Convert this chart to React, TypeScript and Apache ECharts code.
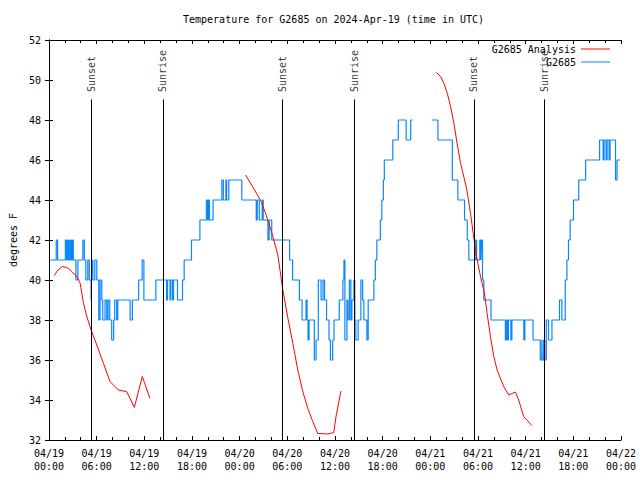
import React, { useEffect, useRef } from 'react';
import * as echarts from 'echarts';

// Hours since 04/19 00:00 UTC
const xTickLabels = [
  '04/19\n00:00', '04/19\n06:00', '04/19\n12:00', '04/19\n18:00',
  '04/20\n00:00', '04/20\n06:00', '04/20\n12:00', '04/20\n18:00',
  '04/21\n00:00', '04/21\n06:00', '04/21\n12:00', '04/21\n18:00',
  '04/22\n00:00',
];

const sunTimes = [5.31, 14.34, 29.39, 38.42, 53.48, 62.38];
const sunLabels = ['Sunset', 'Sunrise', 'Sunset', 'Sunrise', 'Sunset', 'Sunrise'];

const analysisDay1 = [
  [0.66, 40.22], [1.13, 40.5], [1.72, 40.68], [2.47, 40.58], [2.89, 40.42],
  [3.6, 40.13], [3.93, 39.83], [4.35, 38.83], [4.77, 38.17], [5.31, 37.5],
  [6.02, 36.75], [6.86, 35.83], [7.69, 34.92], [8.74, 34.5], [9.78, 34.42],
  [10.75, 33.63], [11.75, 35.18], [12.71, 34.08],
];
const analysisDay2 = [
  [24.75, 45.25], [25.88, 44.5], [26.72, 43.92], [27.56, 43.0], [28.19, 42.17],
  [28.81, 41.25], [29.44, 39.5], [30.07, 38.1], [30.7, 36.83], [31.32, 35.5],
  [31.95, 34.42], [32.58, 33.58], [33.21, 32.92], [33.83, 32.33], [35.09, 32.3],
  [35.84, 32.37], [36.13, 33.17], [36.75, 34.45],
];
const analysisDay3 = [
  [48.76, 50.38], [49.3, 50.17], [49.71, 49.83], [50.14, 49.33], [50.55, 48.67],
  [50.97, 47.83], [51.3, 47.0], [51.81, 45.83], [52.56, 44.6], [53.06, 43.33],
  [53.4, 42.33], [53.82, 41.17], [54.32, 40.17], [54.82, 39.33], [55.15, 38.33],
  [55.57, 37.17], [55.99, 36.17], [56.41, 35.5], [57.24, 34.67], [57.87, 34.25],
  [58.71, 34.4], [59.12, 34.0], [59.75, 33.17], [60.8, 32.72],
];

// Observed (each point = start of a level)
const observedBeforeGap = [
  [0.16, 41], [0.92, 42], [1.09, 41], [2.07, 42], [2.23, 41], [2.38, 42], [2.51, 41],
  [2.67, 42], [2.82, 41], [2.97, 42], [3.07, 41], [3.39, 40], [3.64, 41], [4.27, 42],
  [4.45, 41], [4.64, 40], [4.89, 41], [5.08, 40], [5.31, 39], [5.39, 41], [5.52, 40],
  [5.77, 41], [6.02, 40], [6.27, 38], [6.44, 40], [6.65, 39], [6.77, 38], [7.06, 39],
  [7.28, 38], [7.44, 39], [7.65, 38], [7.9, 37], [8.15, 38], [8.28, 39], [8.53, 38],
  [8.66, 39], [10.22, 38], [10.5, 39], [11.29, 40], [11.73, 41], [11.95, 39],
  [13.46, 40], [14.8, 39], [14.93, 40], [15.24, 39], [15.34, 40], [15.56, 39],
  [15.68, 40], [16.18, 39], [16.81, 40], [17.02, 41], [17.94, 42], [19.0, 43],
  [19.82, 44], [19.95, 43], [20.07, 44], [20.2, 43], [20.66, 44], [21.76, 45],
  [21.95, 44], [22.27, 45], [22.37, 44], [22.64, 45], [24.27, 44], [26.09, 43],
  [26.22, 44], [26.47, 43], [26.84, 44], [26.97, 43], [27.56, 42], [27.72, 43],
  [28.04, 42], [30.29, 41], [30.67, 40], [31.52, 39], [31.86, 38], [32.36, 39],
  [32.49, 38], [32.61, 37], [32.74, 38], [33.4, 36], [33.62, 37], [33.9, 40],
  [34.25, 39], [34.5, 40], [34.69, 39], [34.94, 38], [35.25, 37], [35.43, 36],
  [35.71, 37], [35.88, 38], [36.54, 39], [37.0, 40], [37.13, 41], [37.25, 37],
  [37.51, 39], [37.63, 38], [37.82, 40], [38.0, 38], [38.13, 39], [38.38, 40],
  [38.5, 38], [38.63, 37], [38.92, 38], [39.26, 40], [39.48, 39], [39.64, 38],
  [40.02, 37], [40.18, 39], [40.9, 40], [41.08, 41], [41.27, 42], [41.71, 43],
  [41.9, 44], [42.09, 45], [42.21, 46], [43.28, 47], [43.97, 48], [44.96, 47],
  [45.53, 48], [45.75, 48],
];
const observedAfterGap = [
  [48.17, 48], [48.96, 47], [50.77, 45], [51.47, 44], [52.31, 43], [52.65, 42],
  [52.85, 41], [53.65, 42], [53.82, 41], [54.23, 42], [54.38, 41], [54.44, 42],
  [54.57, 40], [54.73, 39], [55.64, 38], [57.45, 37], [57.58, 38], [57.7, 37],
  [57.83, 38], [58.14, 37], [58.27, 38], [59.77, 37], [59.9, 38], [60.93, 37],
  [61.84, 36], [62.03, 37], [62.09, 36], [62.26, 37], [62.41, 36], [62.6, 38],
  [62.88, 37], [63.31, 38], [64.26, 39], [64.56, 38], [64.98, 40], [65.19, 41],
  [65.39, 42], [65.6, 43], [66.02, 44], [66.68, 45], [67.55, 46], [69.31, 47],
  [69.75, 46], [69.87, 47], [70.12, 46], [70.25, 47], [70.5, 46], [70.62, 47],
  [71.31, 45], [71.5, 46], [71.87, 46],
];

const MONO = '"DejaVu Sans Mono", "Liberation Mono", monospace';
const RED = '#ff0000';
const BLUE = '#0a86ff';

export default function App() {
  const ref = useRef<HTMLDivElement>(null);
  useEffect(() => {
    if (!ref.current) return;
    const chart = echarts.init(ref.current, undefined, { renderer: 'svg' });
    const axisLine = { show: true, lineStyle: { color: '#000', width: 1 } };
    const redSeries = [analysisDay1, analysisDay2, analysisDay3].map((d) => ({
      name: 'G2685 Analysis',
      type: 'line',
      data: d,
      showSymbol: false,
      symbol: 'none',
      color: RED,
      lineStyle: { color: RED, width: 1 },
      z: 3,
    }));
    const blueSeries = [observedBeforeGap, observedAfterGap].map((d) => ({
      name: 'G2685',
      type: 'line',
      data: d,
      step: 'end',
      showSymbol: false,
      symbol: 'none',
      color: BLUE,
      lineStyle: { color: BLUE, width: 1.2 },
      z: 2,
    }));
    chart.setOption({
      animation: false,
      backgroundColor: '#fff',
      title: {
        text: 'Temperature for G2685 on 2024-Apr-19 (time in UTC)',
        left: 183,
        top: 14,
        padding: 0,
        textStyle: { fontFamily: MONO, fontSize: 10, fontWeight: 'normal', color: '#000' },
      },
      legend: {
        data: ['G2685 Analysis', 'G2685'],
        orient: 'vertical',
        align: 'right',
        right: 30,
        top: 43,
        padding: 0,
        itemGap: 1,
        itemWidth: 29,
        itemHeight: 1,
        icon: 'rect',
        selectedMode: false,
        textStyle: { fontFamily: MONO, fontSize: 10, color: '#000', lineHeight: 12 },
      },
      grid: { left: 47, right: 19, top: 40, bottom: 40 },
      xAxis: [
        {
          type: 'value',
          min: 0,
          max: 72,
          interval: 6,
          position: 'bottom',
          axisLine,
          axisTick: { show: true, inside: true, length: 4, lineStyle: { color: '#000' } },
          minorTick: { show: true, splitNumber: 3, length: 3, lineStyle: { color: '#000' } },
          splitLine: { show: false },
          axisLabel: {
            margin: 7,
            fontFamily: MONO,
            fontSize: 10,
            color: '#000',
            lineHeight: 13,
            formatter: (v: number) => xTickLabels[Math.round(v / 6)] ?? '',
          },
        },
        {
          type: 'value',
          min: 0,
          max: 72,
          interval: 6,
          position: 'top',
          axisLine,
          axisTick: { show: true, inside: true, length: 4, lineStyle: { color: '#000' } },
          minorTick: { show: true, splitNumber: 3, length: 3, lineStyle: { color: '#000' } },
          splitLine: { show: false },
          axisLabel: { show: false },
        },
      ],
      yAxis: [
        {
          type: 'value',
          min: 32,
          max: 52,
          interval: 2,
          position: 'left',
          name: 'degrees F',
          nameLocation: 'middle',
          nameGap: 30,
          nameRotate: 90,
          nameTextStyle: { fontFamily: MONO, fontSize: 10, color: '#000' },
          axisLine,
          axisTick: { show: true, inside: true, length: 4, lineStyle: { color: '#000' } },
          splitLine: { show: false },
          axisLabel: { margin: 8, fontFamily: MONO, fontSize: 10, color: '#000' },
        },
        {
          type: 'value',
          min: 32,
          max: 52,
          interval: 2,
          position: 'right',
          axisLine,
          axisTick: { show: true, inside: true, length: 4, lineStyle: { color: '#000' } },
          splitLine: { show: false },
          axisLabel: { show: false },
        },
      ],
      series: [
        ...blueSeries,
        ...redSeries,
        {
          name: 'sun',
          type: 'scatter',
          symbolSize: 0,
          silent: true,
          data: sunTimes.map((t, i) => ({ value: [t, 49.4], name: sunLabels[i] })),
          label: {
            show: true,
            formatter: '{b}',
            position: [0, 0],
            rotate: 90,
            align: 'left',
            verticalAlign: 'middle',
            fontFamily: MONO,
            fontSize: 10,
            color: '#000',
          },
          markLine: {
            silent: true,
            symbol: ['none', 'none'],
            label: { show: false },
            lineStyle: { color: '#000', width: 1, type: 'solid' },
            data: sunTimes.map((t) => [{ coord: [t, 32] }, { coord: [t, 49.03] }]),
          },
          z: 1,
        },
      ],
    });
    return () => chart.dispose();
  }, []);
  return (
    <div
      ref={ref}
      style={{ position: 'fixed', left: 0, top: 0, width: 640, height: 480, background: '#fff' }}
    />
  );
}
